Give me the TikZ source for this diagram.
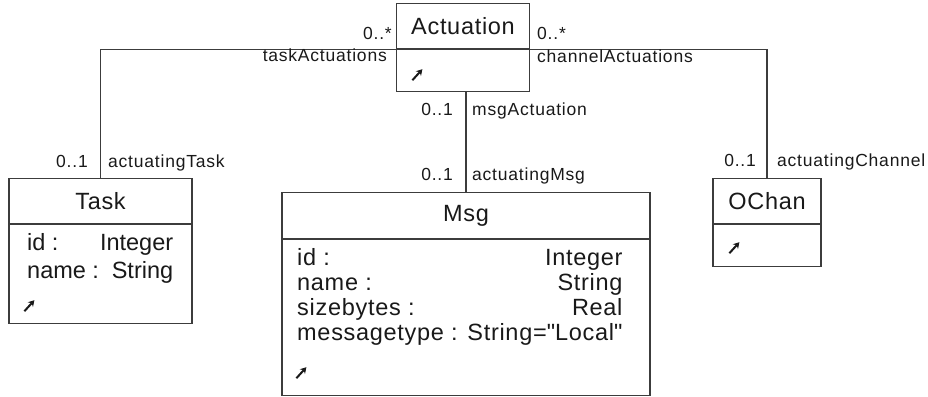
\documentclass[tikz,border=0pt]{standalone}
\usepackage{fontspec}
\setmainfont{Liberation Sans}
\newfontfamily\umlfont[LetterSpace=3]{Liberation Sans}
\newfontfamily\rolefont[LetterSpace=4.5]{Liberation Sans}
\usetikzlibrary{arrows.meta}

\definecolor{umlline}{RGB}{60,60,60}
\definecolor{umltext}{RGB}{25,25,25}

\begin{document}
\begin{tikzpicture}[x=1pt,y=-1pt,
    classhead/.style={draw=umlline,line width=1.2pt,anchor=north,inner sep=0pt,
      font=\umlfont\fontsize{23.5}{28}\selectfont,text=umltext},
    classbody/.style={draw=umlline,line width=1.2pt,anchor=north,inner sep=0pt},
    attrs/.style={anchor=base west,inner sep=0pt,text=umltext,
      font=\umlfont\fontsize{23.5}{28}\selectfont},
    role/.style={inner sep=0pt,text=umltext,font=\rolefont\fontsize{17.5}{20}\selectfont},
    assoc/.style={draw=umlline,line width=1.2pt},
    opicon/.style={line width=2pt,-{Stealth[length=6pt,width=7pt]},umltext}]
    \useasboundingbox (0,0) rectangle (928,396);

    % classes
    \node[classhead,minimum width=133,minimum height=45] (acthead) at (463,3) {Actuation};
    \node[classbody,minimum width=133,minimum height=42] (actbody) at (acthead.south) {};

    \node[classhead,minimum width=183,minimum height=45] (taskhead) at (100.5,178) {Task};
    \node[classbody,minimum width=183,minimum height=99] (taskbody) at (taskhead.south) {};
    \node[attrs,font=\rmfamily\fontsize{23.5}{28}\selectfont] (taskattrs) at (27,250)
        {\begin{tabular}[t]{@{}l@{\hspace{1pt}}r@{}}id : & Integer\\ name : & String\end{tabular}};

    \node[classhead,minimum width=368,minimum height=46] (msghead) at (466,192) {Msg};
    \node[classbody,minimum width=368,minimum height=156] (msgbody) at (msghead.south) {};
    \node[attrs,font=\umlfont\fontsize{23.5}{25}\selectfont] (msgattrs) at (297,265)
        {\begin{tabular}[t]{@{}l@{ }r@{}}id : & Integer\\ name : & String\\
         sizebytes : & Real\\
         messagetype : & String=\textquotedbl Local\textquotedbl\end{tabular}};

    \node[classhead,minimum width=108,minimum height=45] (ochanhead) at (767,178) {OChan};
    \node[classbody,minimum width=108,minimum height=42] (ochanbody) at (ochanhead.south) {};

    % operation icons
    \draw[opicon] ([shift={(16.5,31)}]actbody.north west) -- ++(10,-11);
    \draw[opicon] ([shift={(16,87)}]taskbody.north west) -- ++(10,-11);
    \draw[opicon] ([shift={(15,139)}]msgbody.north west) -- ++(10,-11);
    \draw[opicon] ([shift={(17,29)}]ochanbody.north west) -- ++(10,-11);

    % associations
    \draw[assoc] (acthead.south west) -- (taskhead.north |- acthead.south west)
        -- (taskhead.north);
    \draw[assoc] (acthead.south east) -- (ochanhead.north |- acthead.south east)
        -- (ochanhead.north);
    \draw[assoc] (actbody.south -| msghead.north) -- (msghead.north);

    % role names and multiplicities
    \node[role,anchor=base east] (taskmult) at (392,40) {0..*};
    \node[role,anchor=base east] (taskrole) at (387,62) {taskActuations};
    \node[role,anchor=base west] (chanmult) at (537,40) {0..*};
    \node[role,anchor=base west] (chanrole) at (537,63) {channelActuations};
    \node[role,anchor=base east] (msgmult) at (453,115) {0..1};
    \node[role,anchor=base west] (msgrole) at (472,115) {msgActuation};
    \node[role,anchor=base east] (atmult) at (88,167) {0..1};
    \node[role,anchor=base west] (atrole) at (108,167) {actuatingTask};
    \node[role,anchor=base east] (ammult) at (453,180) {0..1};
    \node[role,anchor=base west] (amrole) at (472,180) {actuatingMsg};
    \node[role,anchor=base east] (acmult) at (756,166) {0..1};
    \node[role,anchor=base west] (acrole) at (777,166) {actuatingChannel};
\end{tikzpicture}
\end{document}
